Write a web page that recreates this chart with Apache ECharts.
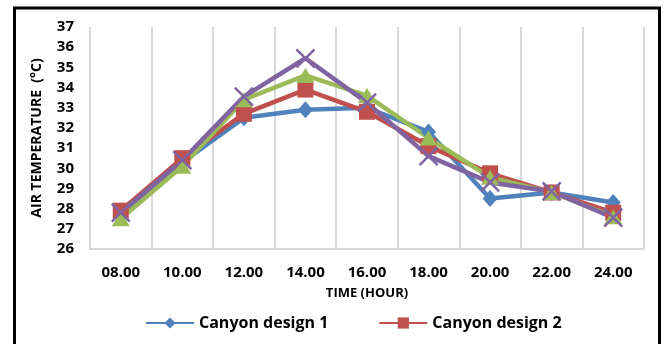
<!DOCTYPE html>
<html>
<head>
<meta charset="utf-8">
<script src="https://cdn.jsdelivr.net/npm/echarts@6/dist/echarts.min.js"></script>
<style>
  html, body { margin: 0; padding: 0; background: #fff; }
  #chart { width: 665px; height: 344px; }
</style>
</head>
<body>
<div id="chart"></div>
<script>
// Air temperature per canyon design over the day
const hours = ["08.00", "10.00", "12.00", "14.00", "16.00", "18.00", "20.00", "22.00", "24.00"];
const design1 = [27.8, 30.3, 32.5, 32.9, 33.0, 31.8, 28.5, 28.8, 28.3];
const design2 = [27.9, 30.5, 32.7, 33.9, 32.8, 31.1, 29.75, 28.8, 27.8];
const design3 = [27.5, 30.1, 33.4, 34.6, 33.6, 31.5, 29.55, 28.8, 27.6];
const design4 = [27.8, 30.4, 33.55, 35.45, 33.25, 30.6, 29.3, 28.85, 27.55];

const FONT = "Open Sans";
const chart = echarts.init(document.getElementById("chart"));

function line(name, data, color, symbol, size, extra) {
  return Object.assign({
    name, type: "line", data,
    symbol, symbolSize: size,
    lineStyle: { color, width: 4.5 },
    itemStyle: { color },
    animation: false,
  }, extra || {});
}

chart.setOption({
  backgroundColor: "#fff",
  animation: false,
  grid: { left: 90, right: 21, top: 27, bottom: 95 },
  legend: {
    data: ["Canyon design 1", "Canyon design 2"],
    bottom: 8, left: 140,
    itemWidth: 48, itemHeight: 14, itemGap: 50,
    textStyle: { fontFamily: FONT, fontWeight: "bold", fontSize: 16, color: "#000" },
  },
  xAxis: {
    type: "category", data: hours,
    name: "TIME (HOUR)", nameLocation: "middle", nameGap: 38,
    nameTextStyle: { fontFamily: FONT, fontWeight: "bold", fontSize: 13, color: "#000" },
    axisLine: { lineStyle: { color: "#d9d9d9", width: 2 } },
    axisTick: { show: false },
    axisLabel: { fontFamily: FONT, fontWeight: "bold", fontSize: 15, color: "#000", margin: 16 },
    splitLine: { show: true, lineStyle: { color: "#d9d9d9", width: 2 } },
  },
  yAxis: {
    type: "value", min: 26, max: 37, interval: 1,
    name: "AIR TEMPERATURE  (°C)", nameLocation: "middle", nameGap: 46,
    nameTextStyle: { fontFamily: FONT, fontWeight: "bold", fontSize: 14, color: "#000" },
    axisLine: { show: false },
    axisTick: { show: false },
    axisLabel: { fontFamily: FONT, fontWeight: "bold", fontSize: 15, color: "#000", margin: 16 },
    splitLine: { show: false },
  },
  graphic: [{
    type: "rect", silent: true,
    shape: { x: 14.5, y: 8, width: 645, height: 400 },
    style: { fill: "none", stroke: "#000", lineWidth: 3 },
  }],
  series: [
    line("Canyon design 1", design1, "#4f81bd", "diamond", [15, 17]),
    line("Canyon design 2", design2, "#c0504d", "rect", 16),
    line("Canyon design 3", design3, "#9bbb59", "triangle", [18, 15]),
    line("Canyon design 4", design4, "#8064a2", "path://M0,0L10,10M10,0L0,10", 18, {
      itemStyle: { color: "#8064a2", borderColor: "#8064a2", borderWidth: 2.5 },
    }),
  ],
});
</script>
</body>
</html>
